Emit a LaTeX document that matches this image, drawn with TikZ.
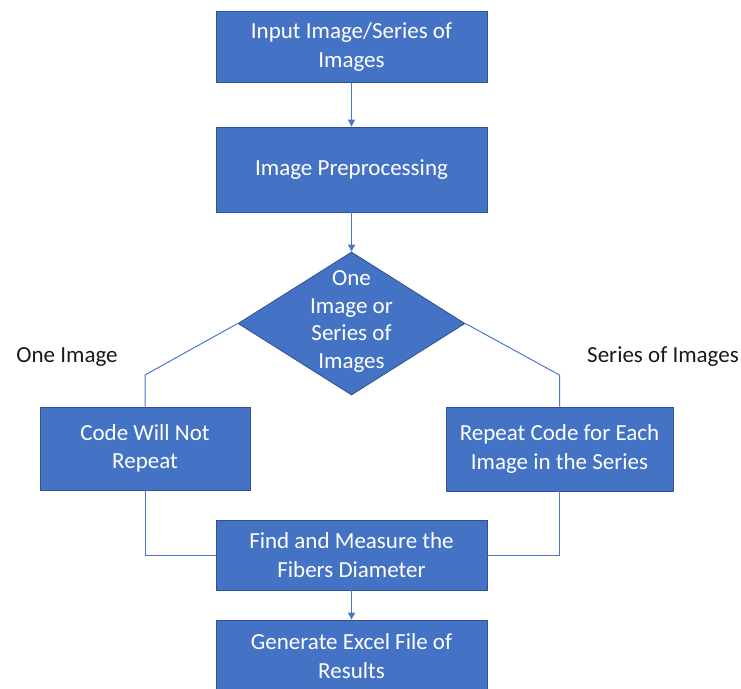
\documentclass[tikz,border=0pt]{standalone}
\usepackage{fontspec}
\setmainfont{Carlito}
\usetikzlibrary{arrows.meta,shapes.geometric}
\definecolor{boxblue}{HTML}{4472C4}
\definecolor{boxedge}{HTML}{2F528F}
\definecolor{linkblue}{HTML}{4A78C8}
\tikzset{
  procbox/.style={draw=boxedge,line width=0.8pt,fill=boxblue,text=white,align=center,inner sep=0pt,
    font=\fontsize{23}{28.5}\selectfont},
  decbox/.style={shape=diamond,draw=boxedge,line width=0.8pt,fill=boxblue,inner sep=0pt},
  dectext/.style={text=white,align=center,font=\fontsize{23}{27.5}\selectfont},
  sidelabel/.style={text=black!90,font=\fontsize{23}{26}\selectfont},
  link/.style={draw=linkblue,line width=1pt},
  linkarrow/.style={link,-{Triangle[width=7pt,length=7pt]}},
}
\begin{document}
\begin{tikzpicture}[x=1pt,y=-1pt]
\useasboundingbox (0,0) rectangle (741,688);
\node[procbox,minimum width=271pt,minimum height=71pt] (b1) at (351.5,47) {Input Image/Series of\\Images};
\node[procbox,minimum width=271pt,minimum height=85pt] (b2) at (351.5,169.5) {Image Preprocessing};
\node[decbox,minimum width=227pt,minimum height=143pt] (d) at (351.5,323.5) {};
\node[dectext] (dt) at (351.5,321.5) {One\\Image or\\Series of\\Images};
\node[procbox,minimum width=210pt,minimum height=83pt] (b4) at (145,448.5) {Code Will Not\\Repeat};
\node[procbox,minimum width=227pt,minimum height=84pt] (b5) at (559.5,449) {Repeat Code for Each\\Image in the Series};
\node[procbox,minimum width=271pt,minimum height=70pt] (b6) at (351.5,555) {Find and Measure the\\Fibers Diameter};
\node[procbox,minimum width=271pt,minimum height=72pt] (b7) at (351.5,656) {Generate Excel File of\\Results};
\node[sidelabel] (l1) at (67,357) {One Image};
\node[sidelabel] (l2) at (663,357) {Series of Images};
\coordinate (cl) at (145,375);
\coordinate (cr) at (559.5,375);
\draw[linkarrow] (b1.south) -- (b2.north);
\draw[linkarrow] (b2.south) -- (d.north);
\draw[link] (d.west) -- (cl) -- (cl |- b4.north);
\draw[link] (d.east) -- (cr) -- (cr |- b5.north);
\draw[link] (b4.south) -- (b4.south |- b6.west) -- (b6.west);
\draw[link] (b5.south) -- (b5.south |- b6.east) -- (b6.east);
\draw[linkarrow] (b6.south) -- (b7.north);
\end{tikzpicture}
\end{document}
